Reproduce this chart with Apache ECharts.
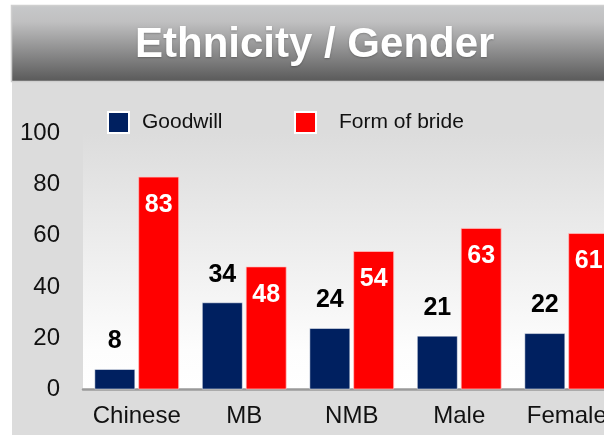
<!DOCTYPE html>
<html>
<head>
<meta charset="utf-8">
<script src="https://cdn.jsdelivr.net/npm/echarts@6/dist/echarts.min.js"></script>
<style>
html,body{margin:0;padding:0;background:#fff;overflow:hidden;}
#chart{width:604px;height:435px;}
</style>
</head>
<body>
<div id="chart"></div>
<script>
const categories = ['Chinese', 'MB', 'NMB', 'Male', 'Female'];
const goodwill = [8, 34, 24, 21, 22];
const formOfBride = [83, 48, 54, 63, 61];
const seriesNames = ['Goodwill', 'Form of bride'];
const titleText = 'Ethnicity / Gender';

const FONT = '"Liberation Sans", Arial, sans-serif';
const chart = echarts.init(document.getElementById('chart'));
chart.setOption({
  animation: false,
  backgroundColor: '#ffffff',
  graphic: [
    { type: 'rect', z: -10, shape: { x: 12, y: 82, width: 600, height: 360 }, style: { fill: '#dcdcdc' } },
    { type: 'rect', z: -10, shape: { x: 11.5, y: 5.5, width: 600, height: 76 },
      style: { stroke: '#cfcfcf', lineWidth: 1.5,
        fill: new echarts.graphic.LinearGradient(0, 0, 0, 1, [
          { offset: 0, color: '#c7c8ca' },
          { offset: 0.22, color: '#c0c0c1' },
          { offset: 1, color: '#585858' }
        ]) } }
  ],
  title: {
    text: titleText,
    left: 135, top: 24, padding: 0,
    textStyle: { color: '#ffffff', fontSize: 42, fontWeight: 'bold', fontFamily: FONT, lineHeight: 42,
      textShadowColor: 'rgba(0,0,0,0.25)', textShadowBlur: 2, textShadowOffsetY: 1 }
  },
  legend: [
    { data: [seriesNames[0]], left: 107, top: 111, padding: 0, icon: 'rect',
      itemWidth: 21, itemHeight: 21,
      itemStyle: { borderColor: '#ffffff', borderWidth: 2 },
      textStyle: { fontSize: 21, color: '#111', fontFamily: FONT, padding: [0, 0, 0, 8] } },
    { data: [seriesNames[1]], left: 294, top: 111, padding: 0, icon: 'rect',
      itemWidth: 21, itemHeight: 21,
      itemStyle: { borderColor: '#ffffff', borderWidth: 2 },
      textStyle: { fontSize: 21, color: '#111', fontFamily: FONT, padding: [0, 0, 0, 18] } }
  ],
  grid: {
    left: 83, width: 537.5, top: 133, height: 256.5, show: true, borderWidth: 0,
    containLabel: false, outerBoundsMode: 'none',
    backgroundColor: new echarts.graphic.LinearGradient(0, 0, 0, 1, [
      { offset: 0, color: '#dcdcdc' },
      { offset: 0.85, color: '#fdfdfd' },
      { offset: 1, color: '#ffffff' }
    ])
  },
  xAxis: {
    type: 'category', data: categories,
    axisTick: { show: false },
    axisLine: { lineStyle: { color: '#9a9a9a', width: 2.5 } },
    axisLabel: { fontSize: 24, color: '#111', fontFamily: FONT, margin: 15, interval: 0 }
  },
  yAxis: {
    type: 'value', min: 0, max: 100, interval: 20,
    splitLine: { show: false },
    axisLine: { show: false }, axisTick: { show: false },
    axisLabel: { fontSize: 24, color: '#111', fontFamily: FONT, margin: 23 }
  },
  series: [
    { name: seriesNames[0], type: 'bar', data: goodwill, barWidth: 41, barGap: '7%',
      itemStyle: { color: '#002060', borderColor: 'rgba(255,255,255,0.5)', borderWidth: 1 },
      label: { show: true, position: 'top', distance: 15, fontSize: 25, fontWeight: 'bold', color: '#000', fontFamily: FONT } },
    { name: seriesNames[1], type: 'bar', data: formOfBride, barWidth: 41,
      itemStyle: { color: '#ff0000', borderColor: 'rgba(255,200,200,0.7)', borderWidth: 1 },
      label: { show: true, position: 'insideTop', distance: 16, fontSize: 25, fontWeight: 'bold', color: '#fff', fontFamily: FONT } }
  ]
});
</script>
</body>
</html>
